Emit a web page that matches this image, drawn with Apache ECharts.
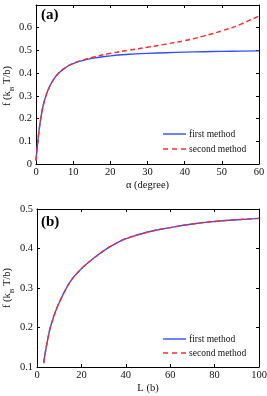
<!DOCTYPE html>
<html><head><meta charset="utf-8">
<script src="https://cdn.jsdelivr.net/npm/echarts@6/dist/echarts.min.js"></script>
<style>html,body{margin:0;padding:0;background:#fff}#c{width:267px;height:396px}</style>
</head><body><div id="c"></div>
<script>
// Panel (a)
const alphaDeg = [0, 0.3, 0.7, 1, 1.5, 2, 2.7, 3.5, 4.5, 6, 8, 10, 12.5, 15, 20, 25, 30, 35, 40, 45, 50, 55, 60];
const aFirst  = [0.015, 0.07, 0.13, 0.17, 0.222, 0.262, 0.302, 0.335, 0.366, 0.398, 0.425, 0.442, 0.455, 0.465, 0.476, 0.483, 0.487, 0.49, 0.4925, 0.4945, 0.496, 0.497, 0.498];
const aSecond = [0.015, 0.07, 0.13, 0.17, 0.222, 0.262, 0.302, 0.335, 0.366, 0.398, 0.425, 0.443, 0.457, 0.469, 0.487, 0.501, 0.514, 0.528, 0.543, 0.563, 0.586, 0.615, 0.652];
// Panel (b)
const lenB = [3, 4, 5, 6, 7.5, 9, 11, 13, 15, 17.5, 20.8, 25, 31.3, 35.8, 40, 50, 60, 70, 80, 90, 100];
const bFirst  = [0.110, 0.145, 0.175, 0.2, 0.227, 0.25, 0.275, 0.297, 0.316, 0.334, 0.353, 0.373, 0.399, 0.4135, 0.4247, 0.4417, 0.453, 0.462, 0.4685, 0.4728, 0.4763];
const bSecond = [0.110, 0.145, 0.175, 0.2, 0.227, 0.25, 0.275, 0.297, 0.316, 0.334, 0.353, 0.373, 0.399, 0.4135, 0.4247, 0.4417, 0.453, 0.462, 0.4685, 0.4728, 0.4763];
const seriesNames = ['first method', 'second method'];
const yName = 'f (k{s|B} T/b)';

const FONT = 'Liberation Serif';
const BLUE = '#2f50ff', RED = '#ff2a2a';
const zip = (x, y) => x.map((v, i) => [v, y[i]]);

function xAx(gi, min, max, interval, name, show) {
  return {
    type: 'value', gridIndex: gi, min, max, interval,
    position: show ? 'bottom' : 'top',
    name: show ? name : '', nameLocation: 'middle', nameGap: 16,
    nameTextStyle: { fontFamily: FONT, fontSize: 10.5, color: '#111' },
    axisLine: { show: true, onZero: false, lineStyle: { color: '#000', width: 1 } },
    axisTick: { show: true, inside: true, length: 3, lineStyle: { color: '#000' } },
    axisLabel: { show: show, margin: 3, fontFamily: FONT, fontSize: 10.5, color: '#111' },
    splitLine: { show: false }
  };
}
function yAx(gi, min, max, interval, show, fmt) {
  return {
    type: 'value', gridIndex: gi, min, max, interval,
    position: show ? 'left' : 'right',
    axisLine: { show: true, onZero: false, lineStyle: { color: '#000', width: 1 } },
    axisTick: { show: true, inside: true, length: 3, lineStyle: { color: '#000' } },
    axisLabel: { show: show, margin: 4, fontFamily: FONT, fontSize: 10.5, color: '#111', formatter: fmt },
    splitLine: { show: false }
  };
}

const chart = echarts.init(document.getElementById('c'), null, { renderer: 'canvas' });
const lineSer = (name, xi, yi, data, color, dashed, z) => ({
  name, type: 'line', xAxisIndex: xi, yAxisIndex: yi, data, smooth: 0.5,
  showSymbol: false, symbol: 'none',
  lineStyle: { color, width: 1.4, type: dashed ? [5, 3] : 'solid' }, itemStyle: { color }, z, animation: false
});

function legendGraphic(y1, y2) {
  const t = { font: '9.5px "Liberation Serif"', fill: '#111', textVerticalAlign: 'middle' };
  return [
    { type: 'line', shape: { x1: 163, y1: y1, x2: 186, y2: y1 }, style: { stroke: BLUE, lineWidth: 1.4 } },
    { type: 'text', x: 189, y: y1, style: Object.assign({ text: seriesNames[0] }, t) },
    { type: 'line', shape: { x1: 163, y1: y2, x2: 186, y2: y2 }, style: { stroke: RED, lineWidth: 1.4, lineDash: [5, 4] } },
    { type: 'text', x: 189, y: y2, style: Object.assign({ text: seriesNames[1] }, t) }
  ];
}
function yNameGraphic(cy) {
  return {
    type: 'text', x: 7, y: cy, rotation: Math.PI / 2,
    style: {
      text: yName, fontFamily: FONT, fontSize: 10.5, fill: '#111', align: 'center', verticalAlign: 'middle',
      rich: { s: { fontFamily: FONT, fontSize: 7, fill: '#111', verticalAlign: 'bottom', padding: [0, 0, -3, 0] } }
    }
  };
}

chart.setOption({
  animation: false,
  grid: [
    { left: 36, right: 8, top: 5, height: 159, outerBoundsMode: 'none', containLabel: false },
    { left: 37, right: 8, top: 209, height: 158, outerBoundsMode: 'none', containLabel: false }
  ],
  xAxis: [
    xAx(0, 0, 60, 10, 'α (degree)', true),
    xAx(0, 0, 60, 10, '', false),
    xAx(1, 0, 100, 20, 'L (b)', true),
    xAx(1, 0, 100, 20, '', false)
  ],
  yAxis: [
    yAx(0, 0, 0.7, 0.1, true, v => (Math.abs(v - 0.7) < 1e-6 ? '' : String(+v.toFixed(1)))),
    yAx(0, 0, 0.7, 0.1, false),
    yAx(1, 0.1, 0.5, 0.1, true, v => String(+v.toFixed(1))),
    yAx(1, 0.1, 0.5, 0.1, false)
  ],
  graphic: [
    { type: 'text', left: 41, top: 8, style: { text: '(a)', font: 'bold 15px "Liberation Serif"', fill: '#000' } },
    { type: 'text', left: 41, top: 215, style: { text: '(b)', font: 'bold 15px "Liberation Serif"', fill: '#000' } },
    yNameGraphic(86), yNameGraphic(288)
  ].concat(legendGraphic(134, 149), legendGraphic(339, 353)),
  series: [
    lineSer(seriesNames[0], 0, 0, zip(alphaDeg, aFirst), BLUE, false, 2),
    lineSer(seriesNames[1], 0, 0, zip(alphaDeg, aSecond), RED, true, 3),
    lineSer(seriesNames[0], 2, 2, zip(lenB, bFirst), BLUE, false, 2),
    lineSer(seriesNames[1], 2, 2, zip(lenB, bSecond), RED, true, 3)
  ]
});
</script></body></html>
